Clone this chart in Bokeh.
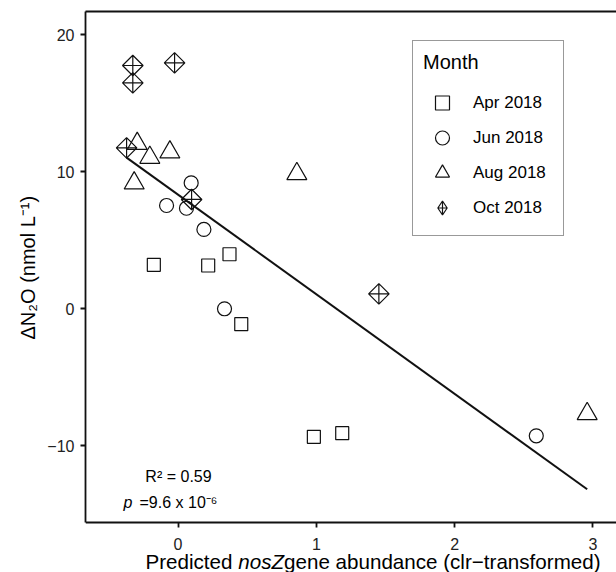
import math
from bokeh.plotting import figure
from bokeh.models import (Range1d, LinearAxis, Legend, LegendItem, Label, FixedTicker, Title)
from bokeh.embed import file_html
from bokeh.resources import INLINE

# ---------------- data ----------------
month_labels = ["Apr 2018", "Jun 2018", "Aug 2018", "Oct 2018"]

apr_x = [-0.175, 0.218, 0.372, 0.457, 0.982, 1.187]
apr_y = [3.19, 3.14, 3.96, -1.14, -9.37, -9.10]

jun_x = [0.095, -0.083, 0.061, 0.187, 0.336, 2.590]
jun_y = [9.17, 7.52, 7.32, 5.77, -0.02, -9.29]

aug_x = [-0.295, -0.204, -0.059, -0.317, 0.859, 2.958]
aug_y = [12.03, 11.02, 11.41, 9.15, 9.83, -7.69]

oct_x = [-0.327, -0.327, -0.025, -0.372, 0.098, 1.452]
oct_y = [17.74, 16.47, 17.93, 11.73, 7.96, 1.07]

fit_intercept = 8.31
fit_slope = -7.27

x_ticks = [0, 1, 2, 3]
y_ticks = [-10, 0, 10, 20]
y_tick_labels = ["\u221210", "0", "10", "20"]

r2_text = "R\u00b2 = 0.59"
p_symbol = "p"
p_value_text = "=9.6 x 10\u207b\u2076"
x_label_parts = ["Predicted", "nosZ", "gene abundance (clr\u2212transformed)"]
y_label = "\u0394N\u2082O (nmol L\u207b\u00b9)"
legend_title = "Month"

# ---------------- figure ----------------
FONT = "Liberation Sans"
INK = "#111111"
Y_AXIS_AT = -15.62   # where the x axis sits (bottom of the data panel)
Y_TOP = 21.68

p = figure(width=616, height=572, output_backend="svg", toolbar_location=None,
           x_range=Range1d(-0.669, 3.17), y_range=Range1d(-19.27, Y_TOP),
           min_border_left=85, min_border_right=0, min_border_top=11,
           min_border_bottom=0)
p.outline_line_color = None
p.xgrid.visible = False
p.ygrid.visible = False
p.background_fill_color = "white"
p.border_fill_color = "white"

for ax in (p.xaxis[0], p.yaxis[0]):
    ax.axis_line_width = 1.8
    ax.axis_line_color = INK
    ax.major_tick_line_width = 1.8
    ax.major_tick_line_color = INK
    ax.major_tick_out = 5
    ax.major_tick_in = 0
    ax.minor_tick_line_color = None
    ax.major_label_text_font = FONT
    ax.major_label_text_font_size = "16px"
    ax.major_label_text_color = "#222222"

p.xaxis.ticker = FixedTicker(ticks=x_ticks)
p.yaxis.ticker = FixedTicker(ticks=y_ticks)
p.yaxis.major_label_overrides = {t: l for t, l in zip(y_ticks, y_tick_labels)}
p.xaxis.major_label_standoff = 11
p.yaxis.major_label_standoff = 6
p.xaxis.fixed_location = Y_AXIS_AT
p.yaxis.bounds = (Y_AXIS_AT, Y_TOP)

# y axis title (placed as a side title so it can be positioned along the axis)
p.add_layout(Title(text=y_label, align="left", offset=233, vertical_align="middle",
                   text_font=FONT, text_font_size="20px", text_font_style="normal",
                   text_color="black", standoff=10), "left")

# top border line
top_axis = LinearAxis(ticker=FixedTicker(ticks=[]), axis_line_width=1.8,
                      axis_line_color=INK, major_tick_line_color=None,
                      minor_tick_line_color=None, major_label_text_font_size="0px",
                      major_label_standoff=0, major_tick_out=0, major_tick_in=0)
p.add_layout(top_axis, "above")

# ---------------- marks ----------------
mk = dict(fill_color=None, line_color=INK, line_width=1.2)
r_apr = p.scatter(apr_x, apr_y, marker="square", size=13, **mk)
r_jun = p.scatter(jun_x, jun_y, marker="circle", size=14, **mk)
r_aug = p.scatter(aug_x, aug_y, marker="triangle", size=20, **mk)
r_oct = p.scatter(oct_x, oct_y, marker="square_x", size=14.5, angle=math.pi / 4, **mk)
# legend key for October (legend keys are drawn unrotated, so use a diamond key;
# this renderer itself is hidden from the plot area)
r_oct_key = p.scatter(oct_x, oct_y, marker="diamond_cross", size=14, visible=False, **mk)

all_x = apr_x + jun_x + aug_x + oct_x
fx = [min(all_x), max(all_x)]
fy = [fit_intercept + fit_slope * v for v in fx]
p.line(fx, fy, line_color=INK, line_width=2)

# ---------------- legend ----------------
legend = Legend(
    items=[LegendItem(label=l, renderers=[r])
           for l, r in zip(month_labels, [r_apr, r_jun, r_aug, r_oct_key])],
    title=legend_title, location=(327, 336),
    title_text_font=FONT, title_text_font_size="20px", title_text_font_style="normal",
    title_text_color="black", title_standoff=11,
    label_text_font=FONT, label_text_font_size="17px", label_text_color="black",
    glyph_width=38, glyph_height=35, label_height=35, label_width=80,
    spacing=0, padding=10, label_standoff=12, margin=0,
    border_line_color="#333333", border_line_width=1,
    background_fill_color="white", background_fill_alpha=1.0)
p.add_layout(legend)

# ---------------- text annotations ----------------
def add_label(text, x, y, size, style="normal", align="left"):
    p.add_layout(Label(x=x, y=y, x_units="screen", y_units="screen", text=text,
                       text_font=FONT, text_font_size=size, text_font_style=style,
                       text_color="black", text_align=align, text_baseline="middle"))

add_label(r2_text, 93, 96, "16px", align="center")
add_label(p_symbol, 38, 70, "16px", style="italic")
add_label(p_value_text, 54, 70, "16px")

fs = 20.6
xl = 60
add_label(x_label_parts[0], xl, 11, f"{fs}px")
xl += fs * (4.224 + 0.278)
add_label(x_label_parts[1], xl, 11, f"{fs}px", style="italic")
xl += fs * 2.223
add_label(x_label_parts[2], xl, 11, f"{fs}px")

open("out.html", "w").write(file_html(p, INLINE))
